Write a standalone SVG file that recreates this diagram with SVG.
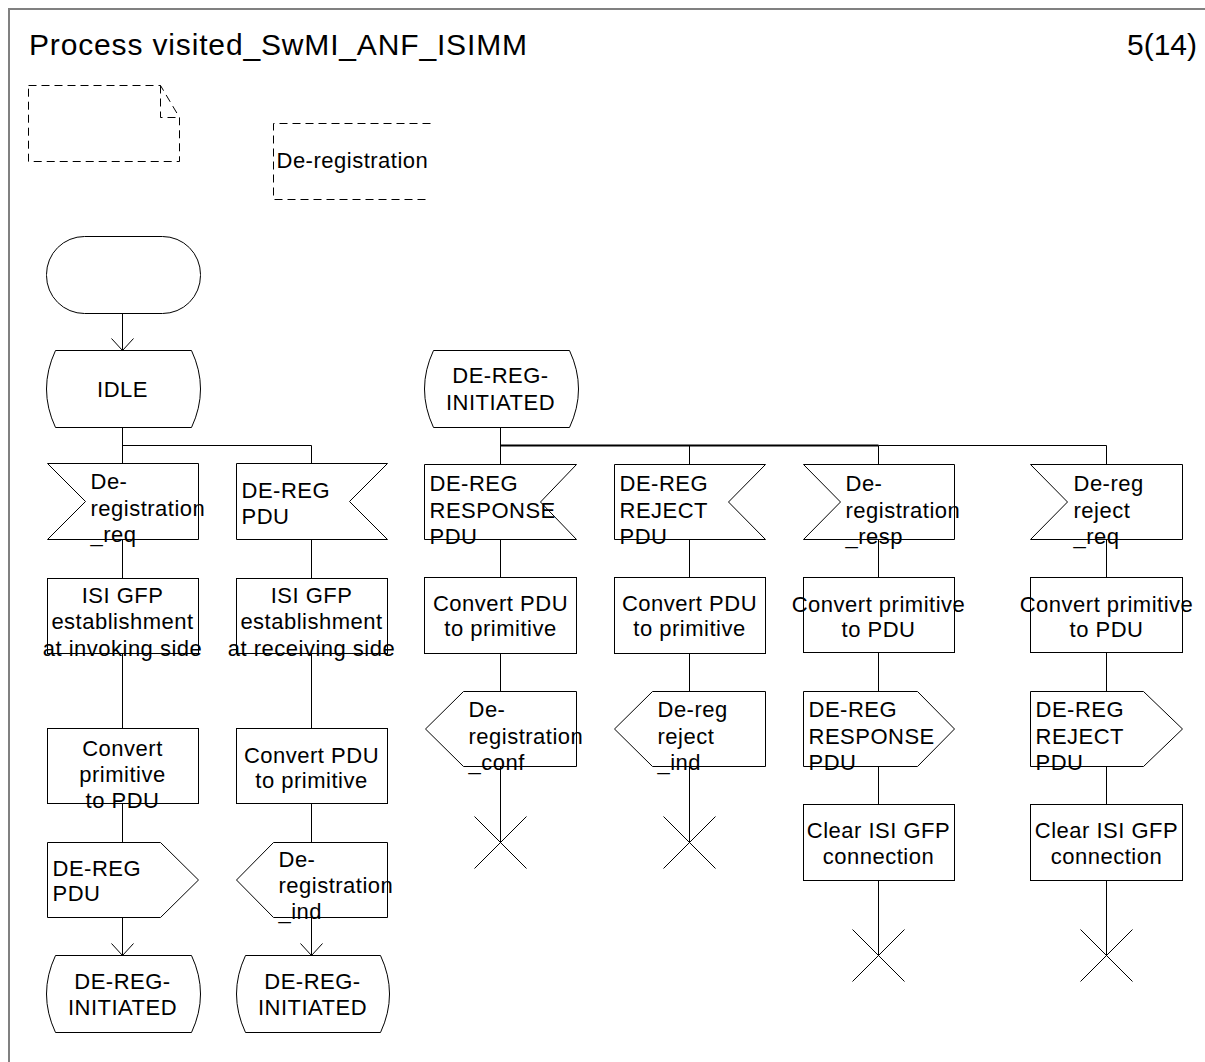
<svg xmlns="http://www.w3.org/2000/svg" width="1205" height="1062" viewBox="0 0 1205 1062">
<style>
.ln{stroke:#000;stroke-width:1;fill:none}
.sh{stroke:#000;stroke-width:1;fill:#fff}
.d{stroke-dasharray:8 5}
.t{font-family:"Liberation Sans",Arial,sans-serif;font-size:22px;letter-spacing:0.5px;fill:#000}
.c{text-anchor:middle}
.h{font-family:"Liberation Sans",Arial,sans-serif;font-size:30px;fill:#000}
</style>
<rect x="0" y="0" width="1205" height="1062" fill="#fff"/>
<path d="M9,1062 V9 H1205" stroke="#808080" stroke-width="2" fill="none"/>
<text class="h" x="29" y="55" textLength="498">Process visited_SwMI_ANF_ISIMM</text>
<text class="h" x="1127" y="55">5(14)</text>
<g transform="translate(0.5,0.5)">
<g id="note">
<path class="ln d" d="M28,85 H160 L179,117 V161 H28 Z M160,85 V117 H179"/>
</g>
<g id="comment">
<path class="ln d" d="M430,123 H273 V199 H430"/>
<text class="t" x="276" y="167">De-registration</text>
</g>
<g id="connectors">
<path class="ln" d="M122,313 V350 M111,338 L122,350 L133,338"/>
<path class="ln" d="M122,427 V463 M122,445 H311 V463"/>
<path class="ln" d="M122,539 V578 M122,653 V728 M122,803 V842 M122,917 V955 M111,943 L122,955 L133,943"/>
<path class="ln" d="M311,539 V578 M311,653 V728 M311,803 V842 M311,917 V955 M300,943 L311,955 L322,943"/>
<path class="ln" d="M500,427 V464 M689,445 V464 M878,445 V464 M1106,445 V464"/>
<path d="M500,445 H878" stroke="#000" stroke-width="2" fill="none"/>
<path class="ln" d="M878,445 H1106"/>
<path class="ln" d="M500,539 V577 M500,653 V691 M500,766 V842"/>
<path class="ln" d="M689,539 V577 M689,653 V691 M689,766 V842"/>
<path class="ln" d="M878,539 V577 M878,652 V691 M878,766 V804 M878,880 V955"/>
<path class="ln" d="M1106,539 V577 M1106,652 V691 M1106,766 V804 M1106,880 V955"/>
</g>
<g id="start">
<rect class="sh" x="46" y="236" width="154" height="77" rx="38" ry="38"/>
</g>
<g id="idle">
<path class="sh" d="M55,350 H191 Q209,388.5 191,427 H55 Q37,388.5 55,350 Z"/>
<text class="t c" x="122" y="396">IDLE</text>
</g>
<g id="in_dereg_req">
<path class="sh" d="M47,463 H198 V539 H47 L85,501 Z"/>
<text class="t" x="90" y="488">De-</text>
<text class="t" x="90" y="515">registration</text>
<text class="t" x="90" y="541">_req</text>
</g>
<g id="in_dereg_pdu">
<path class="sh" d="M236,463 H387 L349,501 L387,539 H236 Z"/>
<text class="t" x="241" y="497">DE-REG</text>
<text class="t" x="241" y="523">PDU</text>
</g>
<g id="task_isi_inv">
<rect class="sh" x="47" y="578" width="151" height="75"/>
<text class="t c" x="122" y="602">ISI GFP</text>
<text class="t c" x="122" y="628">establishment</text>
<text class="t c" x="122" y="655">at invoking side</text>
</g>
<g id="task_isi_rec">
<rect class="sh" x="236" y="578" width="151" height="75"/>
<text class="t c" x="311" y="602">ISI GFP</text>
<text class="t c" x="311" y="628">establishment</text>
<text class="t c" x="311" y="655">at receiving side</text>
</g>
<g id="task_conv1">
<rect class="sh" x="47" y="728" width="151" height="75"/>
<text class="t c" x="122" y="755">Convert</text>
<text class="t c" x="122" y="781">primitive</text>
<text class="t c" x="122" y="807">to PDU</text>
</g>
<g id="task_conv2">
<rect class="sh" x="236" y="728" width="151" height="75"/>
<text class="t c" x="311" y="762">Convert PDU</text>
<text class="t c" x="311" y="787">to primitive</text>
</g>
<g id="out_dereg_pdu">
<path class="sh" d="M47,842 H160 L198,879.5 L160,917 H47 Z"/>
<text class="t" x="52" y="875">DE-REG</text>
<text class="t" x="52" y="900">PDU</text>
</g>
<g id="out_dereg_ind">
<path class="sh" d="M273,842 H387 V917 H273 L236,879.5 Z"/>
<text class="t" x="278" y="866">De-</text>
<text class="t" x="278" y="892">registration</text>
<text class="t" x="278" y="918">_ind</text>
</g>
<g id="state_init1">
<path class="sh" d="M55,955 H191 Q209,993.5 191,1032 H55 Q37,993.5 55,955 Z"/>
<text class="t c" x="122" y="988">DE-REG-</text>
<text class="t c" x="122" y="1014">INITIATED</text>
</g>
<g id="state_init2">
<path class="sh" d="M245,955 H380 Q398,993.5 380,1032 H245 Q227,993.5 245,955 Z"/>
<text class="t c" x="312" y="988">DE-REG-</text>
<text class="t c" x="312" y="1014">INITIATED</text>
</g>
<g id="state_dereg_init">
<path class="sh" d="M433,350 H569 Q587,388.5 569,427 H433 Q415,388.5 433,350 Z"/>
<text class="t c" x="500" y="382">DE-REG-</text>
<text class="t c" x="500" y="409">INITIATED</text>
</g>
<g id="in_resp_pdu">
<path class="sh" d="M424,464 H576 L540,501.5 L576,539 H424 Z"/>
<text class="t" x="429" y="490">DE-REG</text>
<text class="t" x="429" y="517">RESPONSE</text>
<text class="t" x="429" y="543">PDU</text>
</g>
<g id="in_reject_pdu">
<path class="sh" d="M614,464 H765 L728,501.5 L765,539 H614 Z"/>
<text class="t" x="619" y="490">DE-REG</text>
<text class="t" x="619" y="517">REJECT</text>
<text class="t" x="619" y="543">PDU</text>
</g>
<g id="in_dereg_resp">
<path class="sh" d="M803,464 H954 V539 H803 L840,501.5 Z"/>
<text class="t" x="845" y="490">De-</text>
<text class="t" x="845" y="517">registration</text>
<text class="t" x="845" y="543">_resp</text>
</g>
<g id="in_reject_req">
<path class="sh" d="M1030,464 H1182 V539 H1030 L1067,501.5 Z"/>
<text class="t" x="1073" y="490">De-reg</text>
<text class="t" x="1073" y="517">reject</text>
<text class="t" x="1073" y="543">_req</text>
</g>
<g id="task_conv3">
<rect class="sh" x="424" y="577" width="152" height="76"/>
<text class="t c" x="500" y="610">Convert PDU</text>
<text class="t c" x="500" y="635">to primitive</text>
</g>
<g id="task_conv4">
<rect class="sh" x="614" y="577" width="151" height="76"/>
<text class="t c" x="689" y="610">Convert PDU</text>
<text class="t c" x="689" y="635">to primitive</text>
</g>
<g id="task_conv5">
<rect class="sh" x="803" y="577" width="151" height="75"/>
<text class="t c" x="878" y="611">Convert primitive</text>
<text class="t c" x="878" y="636">to PDU</text>
</g>
<g id="task_conv6">
<rect class="sh" x="1030" y="577" width="152" height="75"/>
<text class="t c" x="1106" y="611">Convert primitive</text>
<text class="t c" x="1106" y="636">to PDU</text>
</g>
<g id="out_conf">
<path class="sh" d="M463,691 H576 V766 H463 L425,728.5 Z"/>
<text class="t" x="468" y="716">De-</text>
<text class="t" x="468" y="743">registration</text>
<text class="t" x="468" y="769">_conf</text>
</g>
<g id="out_reject_ind">
<path class="sh" d="M652,691 H765 V766 H652 L614,728.5 Z"/>
<text class="t" x="657" y="716">De-reg</text>
<text class="t" x="657" y="743">reject</text>
<text class="t" x="657" y="769">_ind</text>
</g>
<g id="out_resp_pdu">
<path class="sh" d="M803,691 H917 L954,728.5 L917,766 H803 Z"/>
<text class="t" x="808" y="716">DE-REG</text>
<text class="t" x="808" y="743">RESPONSE</text>
<text class="t" x="808" y="769">PDU</text>
</g>
<g id="out_reject_pdu">
<path class="sh" d="M1030,691 H1143 L1182,728.5 L1143,766 H1030 Z"/>
<text class="t" x="1035" y="716">DE-REG</text>
<text class="t" x="1035" y="743">REJECT</text>
<text class="t" x="1035" y="769">PDU</text>
</g>
<g id="task_clear5">
<rect class="sh" x="803" y="804" width="151" height="76"/>
<text class="t c" x="878" y="837">Clear ISI GFP</text>
<text class="t c" x="878" y="863">connection</text>
</g>
<g id="task_clear6">
<rect class="sh" x="1030" y="804" width="152" height="76"/>
<text class="t c" x="1106" y="837">Clear ISI GFP</text>
<text class="t c" x="1106" y="863">connection</text>
</g>
<g id="stop3"><path class="ln" d="M474,816 L526,868 M526,816 L474,868"/></g>
<g id="stop4"><path class="ln" d="M663,816 L715,868 M715,816 L663,868"/></g>
<g id="stop5"><path class="ln" d="M852,929 L904,981 M904,929 L852,981"/></g>
<g id="stop6"><path class="ln" d="M1080,929 L1132,981 M1132,929 L1080,981"/></g>
</g>
</svg>
